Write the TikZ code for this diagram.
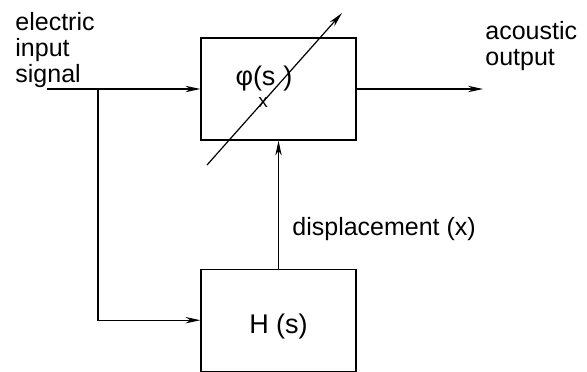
\documentclass[tikz,border=0pt]{standalone}
\usepackage{fontspec}
\setmainfont{Liberation Sans}
\usetikzlibrary{arrows.meta,positioning}
\newcommand\lbfont{\fontsize{12.5}{13}\selectfont}
\newcommand\subfont{\fontsize{9.5}{10}\selectfont}

\begin{document}
\begin{tikzpicture}[
  x=0.5pt,y=0.5pt,
  node distance=64pt,
  blk/.style={draw,line width=0.6pt,minimum width=77.5pt,minimum height=51pt,inner sep=0pt},
  lbl/.style={font=\lbfont,inner sep=0pt,align=left},
  arr/.style={-{Stealth[length=7.5pt,width=3.2pt]},line width=0.6pt}
]
\useasboundingbox (0,0) rectangle (587,371);

% blocks
\node[blk] (phi) at (278.5,282) {};
\node[blk,below=of phi,font=\fontsize{13.5}{16}\selectfont,text height=13pt,text depth=0pt] (H) {H (s)};

% text
\node[lbl,anchor=base,font=\fontsize{13.5}{14}\selectfont] (phil) at (264,286) {φ(s\hspace{4pt})};
\node[font=\subfont,inner sep=0pt] (phix) at (263,269) {x};
\node[lbl,anchor=north west] (inlbl) at (15,359) {electric\\input\\signal};
\node[lbl,anchor=north west] (outlbl) at (485,350) {acoustic\\output};
\node[lbl,anchor=base west] (dlbl) at (292,136) {displacement (x)};

\coordinate (in) at (47,282);
\coordinate (br) at (98,282);
\coordinate (out) at (483,282);
\coordinate (vs) at (207,206);
\coordinate (ve) at (342,358);

\draw[arr] (in) -- (phi.west);
\draw[arr] (br) |- (H.west);
\draw[arr] (phi.east) -- (out);
\draw[arr] (H) -- (phi);
\draw[arr] (vs) -- (ve);
\end{tikzpicture}
\end{document}
